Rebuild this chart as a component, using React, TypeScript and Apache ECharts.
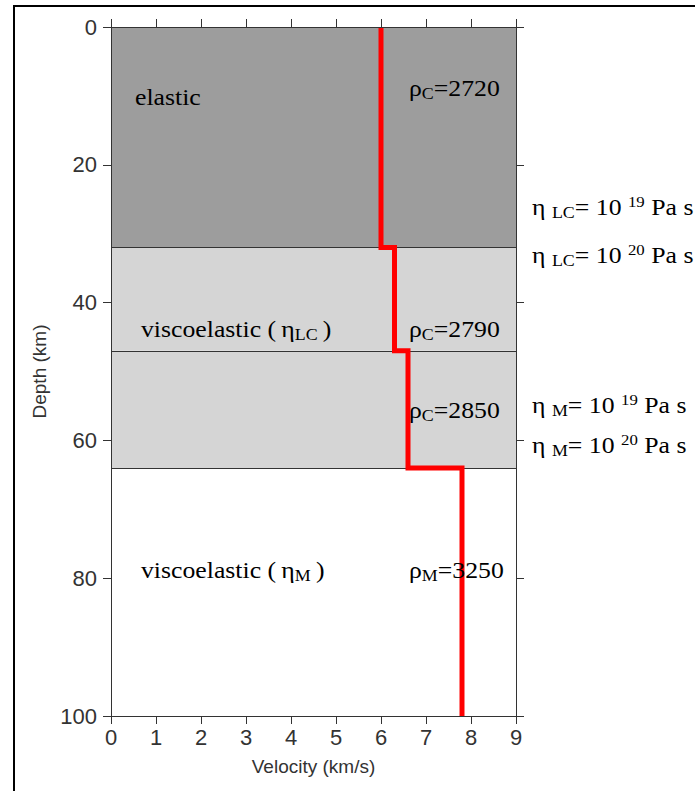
import React, { useEffect, useRef } from "react";
import * as echarts from "echarts";

// ---- data ----
const velocityMin = 0;
const velocityMax = 9;
const depthMin = 0;
const depthMax = 100;
const layerTop = [0, 32, 47, 64];
const layerBottom = [32, 47, 64, 100];
const layerColor = ["#9d9d9d", "#d5d5d5", "#d5d5d5", "#ffffff"];
const layerVp = [6.0, 6.3, 6.6, 7.8];
const boundaryDepths = [32, 47, 64];

const serif = "'Liberation Serif', 'Times New Roman', serif";
const sans = "'Liberation Sans', Arial, Helvetica, sans-serif";
const txtColor = "#1a1a1a";

const rich = {
  n: { fontFamily: serif, fontSize: 23, color: txtColor },
  s: { fontFamily: serif, fontSize: 16, color: txtColor, padding: [12, 0, 0, 0] },
  p: { fontFamily: serif, fontSize: 15, color: txtColor, padding: [0, 0, 11, 0] },
};

const annotations: { x: number; y: number; text: string }[] = [
  { x: 135, y: 97, text: "{n|elastic}" },
  { x: 409, y: 88, text: "{n|ρ}{s|C}{n|=2720}" },
  { x: 141, y: 329, text: "{n|viscoelastic (\u2009η}{s|LC}{n|\u2009)}" },
  { x: 409, y: 329, text: "{n|ρ}{s|C}{n|=2790}" },
  { x: 409, y: 410, text: "{n|ρ}{s|C}{n|=2850}" },
  { x: 141, y: 570, text: "{n|viscoelastic (\u2009η}{s|M}{n|\u2009)}" },
  { x: 409, y: 570, text: "{n|ρ}{s|M}{n|=3250}" },
  { x: 532, y: 207, text: "{n|η }{s|LC}{n|= 10 }{p|19}{n| Pa s}" },
  { x: 532, y: 255, text: "{n|η }{s|LC}{n|= 10 }{p|20}{n| Pa s}" },
  { x: 532, y: 405, text: "{n|η }{s|M}{n|= 10 }{p|19}{n| Pa s}" },
  { x: 532, y: 445, text: "{n|η }{s|M}{n|= 10 }{p|20}{n| Pa s}" },
];

export default function App() {
  const ref = useRef<HTMLDivElement>(null);
  useEffect(() => {
    if (!ref.current) return;
    const chart = echarts.init(ref.current, undefined, { renderer: "svg" });

    const vpLine: number[][] = [];
    layerVp.forEach((v, i) => {
      vpLine.push([v, layerTop[i]]);
      vpLine.push([v, layerBottom[i]]);
    });

    const axisLineStyle = { color: "#333", width: 1 };
    const baseX = {
      type: "value" as const,
      min: velocityMin,
      max: velocityMax,
      interval: 1,
      splitLine: { show: false },
      axisLine: { show: true, onZero: false, lineStyle: axisLineStyle },
      axisTick: { show: true, inside: false, length: 8, lineStyle: axisLineStyle },
      z: 10,
    };
    const baseY = {
      type: "value" as const,
      min: depthMin,
      max: depthMax,
      interval: 20,
      inverse: true,
      splitLine: { show: false },
      axisLine: { show: true, onZero: false, lineStyle: axisLineStyle },
      axisTick: { show: true, inside: false, length: 8, lineStyle: axisLineStyle },
      z: 10,
    };

    chart.setOption({
      animation: false,
      backgroundColor: "#ffffff",
      grid: { left: 111, top: 27, width: 405, height: 689, containLabel: false },
      xAxis: [
        {
          ...baseX,
          position: "bottom",
          axisLabel: { fontSize: 22, color: "#333", margin: 10, fontFamily: sans },
          name: "Velocity (km/s)",
          nameLocation: "middle",
          nameGap: 41,
          nameTextStyle: { fontSize: 19, color: "#333", fontFamily: sans },
        },
        { ...baseX, position: "top", axisLabel: { show: false } },
      ],
      yAxis: [
        {
          ...baseY,
          position: "left",
          axisLabel: { fontSize: 22, color: "#333", margin: 14, fontFamily: sans },
          name: "Depth (km)",
          nameLocation: "middle",
          nameGap: 61,
          nameTextStyle: { fontSize: 19, color: "#333", fontFamily: sans },
        },
        { ...baseY, position: "right", axisLabel: { show: false } },
      ],
      series: [
        {
          type: "line",
          xAxisIndex: 0,
          yAxisIndex: 0,
          data: [],
          z: 1,
          markArea: {
            silent: true,
            data: layerTop.map((t, i) => [
              { xAxis: velocityMin, yAxis: t, itemStyle: { color: layerColor[i], opacity: 1 } },
              { xAxis: velocityMax, yAxis: layerBottom[i] },
            ]),
          },
          markLine: {
            silent: true,
            symbol: "none",
            label: { show: false },
            lineStyle: { color: "#333", width: 1, type: "solid" },
            data: boundaryDepths.map((d) => ({ yAxis: d })),
          },
        },
        {
          type: "line",
          xAxisIndex: 0,
          yAxisIndex: 0,
          data: vpLine,
          showSymbol: false,
          symbol: "none",
          z: 5,
          lineStyle: { color: "#ff0000", width: 5, join: "miter" },
        },
      ],
      graphic: [
        {
          type: "rect",
          shape: { x: 14, y: 6, width: 900, height: 900 },
          style: { fill: "none", stroke: "#000", lineWidth: 2 },
          z: 100,
        },
        ...annotations.map((a) => ({
          type: "text",
          x: a.x,
          y: a.y,
          scaleX: 1.12,
          z: 100,
          style: { text: a.text, rich, align: "left", verticalAlign: "middle" },
        })),
      ],
    });
    return () => chart.dispose();
  }, []);
  return (
    <div
      ref={ref}
      style={{ position: "absolute", left: 0, top: 0, width: 695, height: 791 }}
    />
  );
}
